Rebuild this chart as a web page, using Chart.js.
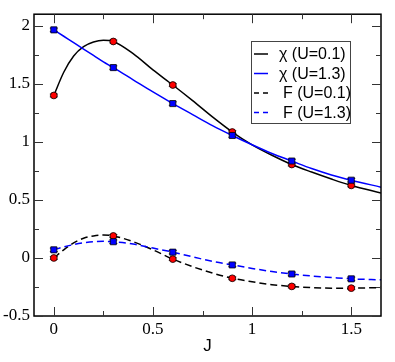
<!DOCTYPE html>
<html>
<head>
<meta charset="utf-8">
<script src="https://cdn.jsdelivr.net/npm/chart.js@4.4.1/dist/chart.umd.min.js"></script>
<style>
  html, body { margin: 0; padding: 0; background: #fff; }
  canvas { display: block; }
</style>
</head>
<body>
<canvas id="chart" width="395" height="362"></canvas>
<script>
// 計算点 (J)
const jPoints = [0, 0.3, 0.6, 0.9, 1.2, 1.5];
const chiU01 = [1.40, 1.865, 1.49, 1.085, 0.805, 0.625];
const chiU13 = [1.965, 1.64, 1.33, 1.055, 0.835, 0.67];
const fU01 = [0.0, 0.19, -0.01, -0.175, -0.245, -0.26];
const fU13 = [0.07, 0.14, 0.05, -0.06, -0.138, -0.18];
const errU01 = [0.012, 0.012, 0.012, 0.012, 0.012, 0.012];
const errU13 = [0.015, 0.015, 0.015, 0.015, 0.015, 0.015];

// フィット曲線
const jCurve = [0, 0.05, 0.1, 0.15, 0.2, 0.25, 0.3, 0.4, 0.5, 0.6, 0.7, 0.8, 0.9, 1.0, 1.1, 1.2, 1.3, 1.4, 1.5, 1.65];
const chiU01Curve = [1.40, 1.60, 1.74, 1.82, 1.86, 1.875, 1.865, 1.76, 1.62, 1.49, 1.355, 1.215, 1.085, 0.975, 0.885, 0.805, 0.74, 0.68, 0.625, 0.56];
const chiU13Curve = [1.965, 1.91, 1.855, 1.80, 1.745, 1.69, 1.64, 1.535, 1.43, 1.33, 1.235, 1.14, 1.055, 0.975, 0.90, 0.835, 0.77, 0.715, 0.67, 0.61];
const fU01Curve = [0.0, 0.07, 0.13, 0.17, 0.19, 0.198, 0.19, 0.14, 0.07, -0.01, -0.075, -0.13, -0.175, -0.205, -0.23, -0.245, -0.255, -0.26, -0.26, -0.255];
const fU13Curve = [0.07, 0.095, 0.115, 0.13, 0.14, 0.143, 0.14, 0.12, 0.085, 0.05, 0.01, -0.03, -0.06, -0.09, -0.117, -0.138, -0.155, -0.168, -0.18, -0.188];

// 目盛りラベル
const xTicks = [0, 0.5, 1, 1.5];
const yTicks = [-0.5, 0, 0.5, 1, 1.5, 2];

const legendItems = [
    { text: '\u03C7 (U=0.1)', color: '#000000', dash: [] },
    { text: '\u03C7 (U=1.3)', color: '#0000ff', dash: [] },
    { text: 'F (U=0.1)', color: '#000000', dash: [5, 4] },
    { text: 'F (U=1.3)', color: '#0000ff', dash: [5, 4] }
];

const toXY = (xs, ys) => xs.map((x, i) => ({ x: x, y: ys[i] }));
const midpoints = arr => arr.slice(1).map((v, i) => (v + arr[i]) / 2);

function pointSet(ys, errs, style, fill, radius) {
    return {
        data: toXY(jPoints, ys),
        errors: errs,
        showLine: false,
        pointStyle: style,
        pointRadius: radius,
        pointBackgroundColor: fill,
        pointBorderColor: '#000000',
        pointBorderWidth: 0.8
    };
}

function curveSet(ys, color, dash) {
    return {
        data: toXY(jCurve, ys),
        showLine: true,
        borderColor: color,
        borderWidth: 1.5,
        borderDash: dash,
        tension: 0.4,
        cubicInterpolationMode: 'monotone',
        pointRadius: 0,
        fill: false
    };
}

// 枠・内向き目盛り・エラーバー・凡例
const framePlugin = {
    id: 'frame',
    beforeDatasetsDraw(chart) {
        const ctx = chart.ctx;
        const xs = chart.scales.x, ys = chart.scales.y;
        ctx.save();
        ctx.strokeStyle = '#333333';
        ctx.lineWidth = 1;
        chart.data.datasets.forEach(ds => {
            if (!ds.errors) return;
            ds.data.forEach((p, i) => {
                const px = xs.getPixelForValue(p.x);
                const y1 = ys.getPixelForValue(p.y + ds.errors[i]);
                const y2 = ys.getPixelForValue(p.y - ds.errors[i]);
                ctx.beginPath();
                ctx.moveTo(px, y1); ctx.lineTo(px, y2);
                ctx.moveTo(px - 4, y1); ctx.lineTo(px + 4, y1);
                ctx.moveTo(px - 4, y2); ctx.lineTo(px + 4, y2);
                ctx.stroke();
            });
        });
        ctx.restore();
    },
    afterDraw(chart) {
        const ctx = chart.ctx;
        const a = chart.chartArea;
        const xs = chart.scales.x, ys = chart.scales.y;
        ctx.save();
        ctx.strokeStyle = '#000000';
        ctx.lineWidth = 1.5;
        ctx.strokeRect(a.left, a.top, a.right - a.left, a.bottom - a.top);

        ctx.lineWidth = 1;
        ctx.strokeStyle = '#333333';
        const tickX = (v, len) => {
            const px = Math.round(xs.getPixelForValue(v)) + 0.5;
            ctx.beginPath();
            ctx.moveTo(px, a.bottom); ctx.lineTo(px, a.bottom - len);
            ctx.moveTo(px, a.top); ctx.lineTo(px, a.top + len);
            ctx.stroke();
        };
        const tickY = (v, len) => {
            const py = Math.round(ys.getPixelForValue(v)) + 0.5;
            ctx.beginPath();
            ctx.moveTo(a.left, py); ctx.lineTo(a.left + len, py);
            ctx.moveTo(a.right, py); ctx.lineTo(a.right - len, py);
            ctx.stroke();
        };
        xTicks.forEach(v => tickX(v, 9));
        midpoints(xTicks).forEach(v => tickX(v, 5));
        yTicks.forEach(v => tickY(v, 9));
        midpoints(yTicks).forEach(v => tickY(v, 5));

        // 軸タイトル
        ctx.fillStyle = '#000000';
        ctx.font = '17px "Liberation Sans", Arial, sans-serif';
        ctx.textAlign = 'center';
        ctx.textBaseline = 'middle';
        ctx.fillText('J', (a.left + a.right) / 2, 346);

        // 凡例
        const bx = 251, by = 41, bw = 99, bh = 82;
        ctx.fillStyle = '#ffffff';
        ctx.fillRect(bx, by, bw, bh);
        ctx.strokeStyle = '#444444';
        ctx.lineWidth = 1;
        ctx.strokeRect(bx + 0.5, by + 0.5, bw, bh);
        ctx.font = '16px "Liberation Sans", Arial, sans-serif';
        ctx.textAlign = 'left';
        legendItems.forEach((item, i) => {
            const y = by + 13 + i * 19.5;
            ctx.strokeStyle = item.color;
            ctx.lineWidth = 1.5;
            ctx.setLineDash(item.dash);
            ctx.beginPath();
            ctx.moveTo(bx + 3, y); ctx.lineTo(bx + 17, y);
            ctx.stroke();
            ctx.setLineDash([]);
            ctx.fillStyle = '#000000';
            ctx.fillText(item.text, bx + (item.text.startsWith('F') ? 32 : 28), y + 1);
        });
        ctx.restore();
    }
};

const ctx = document.getElementById('chart').getContext('2d');
new Chart(ctx, {
    type: 'scatter',
    data: {
        datasets: [
            pointSet(chiU13, errU13, 'rect', '#0000ff', 4.3),
            pointSet(fU13, errU13, 'rect', '#0000ff', 4.3),
            pointSet(chiU01, errU01, 'circle', '#ff0000', 3.4),
            pointSet(fU01, errU01, 'circle', '#ff0000', 3.4),
            curveSet(chiU13Curve, '#0000ff', []),
            curveSet(fU13Curve, '#0000ff', [7, 4]),
            curveSet(chiU01Curve, '#000000', []),
            curveSet(fU01Curve, '#000000', [7, 4])
        ]
    },
    options: {
        responsive: false,
        animation: false,
        layout: { padding: { left: 0, right: 14, top: 13, bottom: 0 } },
        plugins: {
            legend: { display: false },
            tooltip: { enabled: false }
        },
        scales: {
            x: {
                type: 'linear',
                min: -0.1,
                max: 1.65,
                grid: { display: false, drawTicks: false },
                border: { display: false },
                afterBuildTicks: scale => { scale.ticks = xTicks.map(v => ({ value: v })); },
                afterFit: scale => { scale.height = 46; },
                ticks: {
                    padding: 3,
                    color: '#000000',
                    maxRotation: 0,
                    font: { family: '"Liberation Serif", "Times New Roman", serif', size: 17 },
                    callback: v => String(v)
                }
            },
            y: {
                type: 'linear',
                min: -0.5,
                max: 2.1,
                grid: { display: false, drawTicks: false },
                border: { display: false },
                afterBuildTicks: scale => { scale.ticks = yTicks.map(v => ({ value: v })); },
                afterFit: scale => { scale.width = 34; },
                ticks: {
                    padding: 4,
                    color: '#000000',
                    font: { family: '"Liberation Serif", "Times New Roman", serif', size: 17 },
                    callback: v => String(v)
                }
            }
        }
    },
    plugins: [framePlugin]
});
</script>
</body>
</html>
